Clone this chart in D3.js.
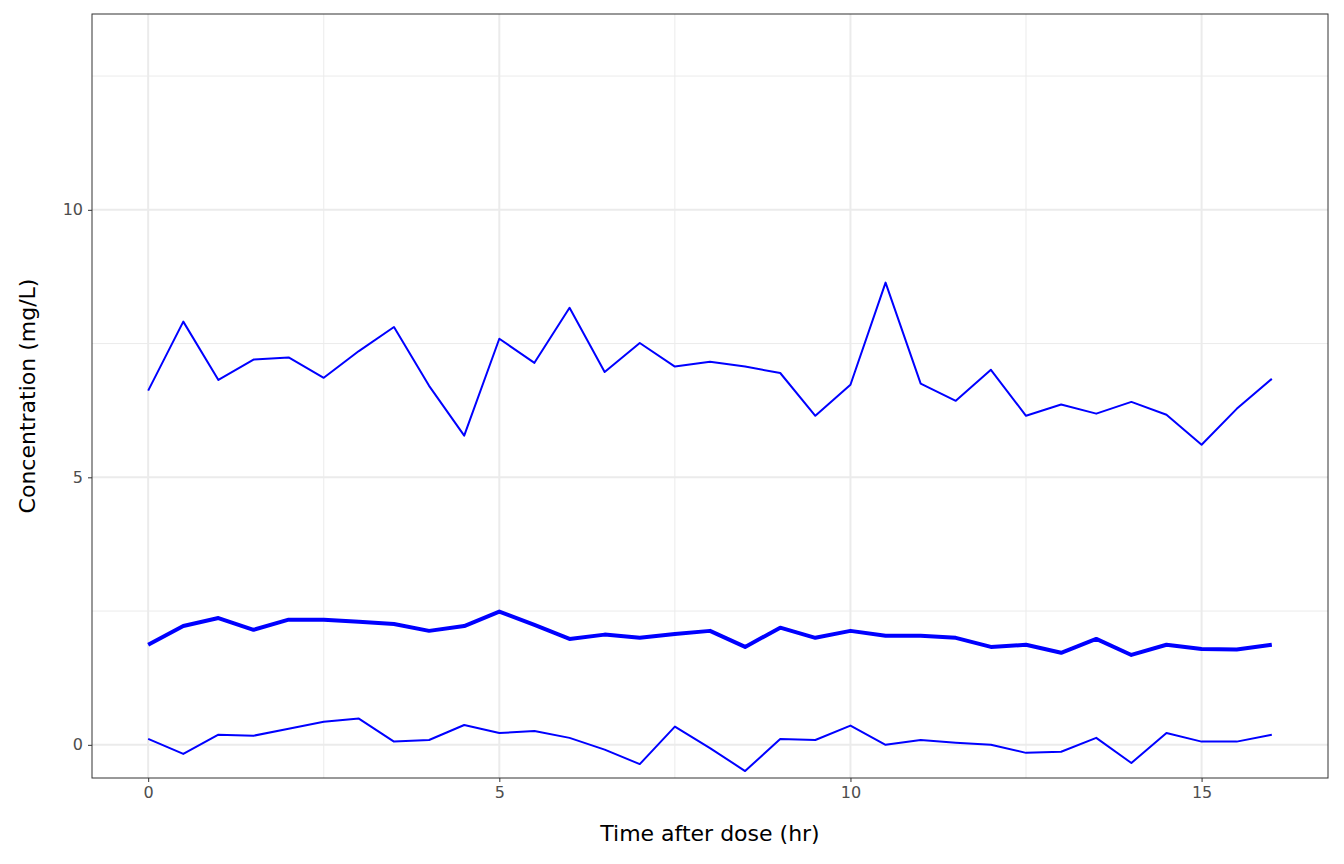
<!DOCTYPE html>
<html><head><meta charset="utf-8">
<script src="https://cdn.jsdelivr.net/npm/d3@7"></script>
<style>body{margin:0;background:#fff}</style></head>
<body><svg id="c" width="1344" height="864"></svg>
<script>
const time = d3.range(0, 16.01, 0.5);
const upper = [6.62,7.91,6.82,7.2,7.24,6.86,7.36,7.81,6.71,5.78,7.59,7.14,8.17,6.97,7.51,7.07,7.16,7.07,6.95,6.15,6.73,8.64,6.75,6.43,7.01,6.15,6.36,6.19,6.41,6.17,5.61,6.28,6.84];
const median = [1.87,2.22,2.37,2.15,2.34,2.34,2.30,2.26,2.13,2.22,2.49,2.24,1.98,2.06,2.00,2.07,2.13,1.83,2.19,2.00,2.13,2.04,2.04,2.00,1.83,1.87,1.72,1.98,1.68,1.87,1.79,1.78,1.87];
const lower = [0.11,-0.17,0.19,0.17,0.30,0.43,0.49,0.06,0.09,0.37,0.22,0.26,0.13,-0.09,-0.36,0.34,-0.06,-0.49,0.11,0.09,0.36,0.0,0.09,0.04,0.0,-0.15,-0.13,0.13,-0.34,0.22,0.06,0.06,0.19];
const xMajor=[0,5,10,15], xMinor=[2.5,7.5,12.5], yMajor=[0,5,10], yMinor=[2.5,7.5,12.5];

const svg=d3.select("#c");
const L=92,R=1328,T=14,B=778;
const x=d3.scaleLinear().domain([-0.8,16.8]).range([L,R]);
const y=d3.scaleLinear().domain([-0.62,13.66]).range([B,T]);
const g=svg.append("g");
xMinor.forEach(v=>g.append("line").attr("x1",x(v)).attr("x2",x(v)).attr("y1",T).attr("y2",B).attr("stroke","#ebebeb").attr("stroke-width",1));
yMinor.forEach(v=>g.append("line").attr("y1",y(v)).attr("y2",y(v)).attr("x1",L).attr("x2",R).attr("stroke","#ebebeb").attr("stroke-width",1));
xMajor.forEach(v=>g.append("line").attr("x1",x(v)).attr("x2",x(v)).attr("y1",T).attr("y2",B).attr("stroke","#ebebeb").attr("stroke-width",2));
yMajor.forEach(v=>g.append("line").attr("y1",y(v)).attr("y2",y(v)).attr("x1",L).attr("x2",R).attr("stroke","#ebebeb").attr("stroke-width",2));
const line=d3.line().x((d,i)=>x(time[i])).y(d=>y(d));
[[upper,2],[median,4],[lower,2]].forEach(([s,w])=>svg.append("path").attr("d",line(s)).attr("fill","none").attr("stroke","#0000ff").attr("stroke-width",w).attr("stroke-linejoin","round"));
svg.append("rect").attr("x",L).attr("y",T).attr("width",R-L).attr("height",B-T).attr("fill","none").attr("stroke","#333").attr("stroke-width",1);
const xa=svg.append("g").attr("transform",`translate(0,${B})`).call(d3.axisBottom(x).tickValues(xMajor).tickSize(4).tickPadding(5));
const ya=svg.append("g").attr("transform",`translate(${L},0)`).call(d3.axisLeft(y).tickValues(yMajor).tickSize(4).tickPadding(5));
[xa,ya].forEach(a=>{a.select(".domain").remove();a.selectAll("line").attr("stroke","#333");a.selectAll("text").attr("fill","#4d4d4d").attr("font-family","DejaVu Sans").attr("font-size",16);});
svg.append("text").attr("x",(L+R)/2).attr("y",841).attr("text-anchor","middle").attr("font-family","DejaVu Sans").attr("font-size",22).text("Time after dose (hr)");
svg.append("text").attr("transform",`translate(35,${(T+B)/2}) rotate(-90)`).attr("text-anchor","middle").attr("font-family","DejaVu Sans").attr("font-size",22).text("Concentration (mg/L)");
</script></body></html>
